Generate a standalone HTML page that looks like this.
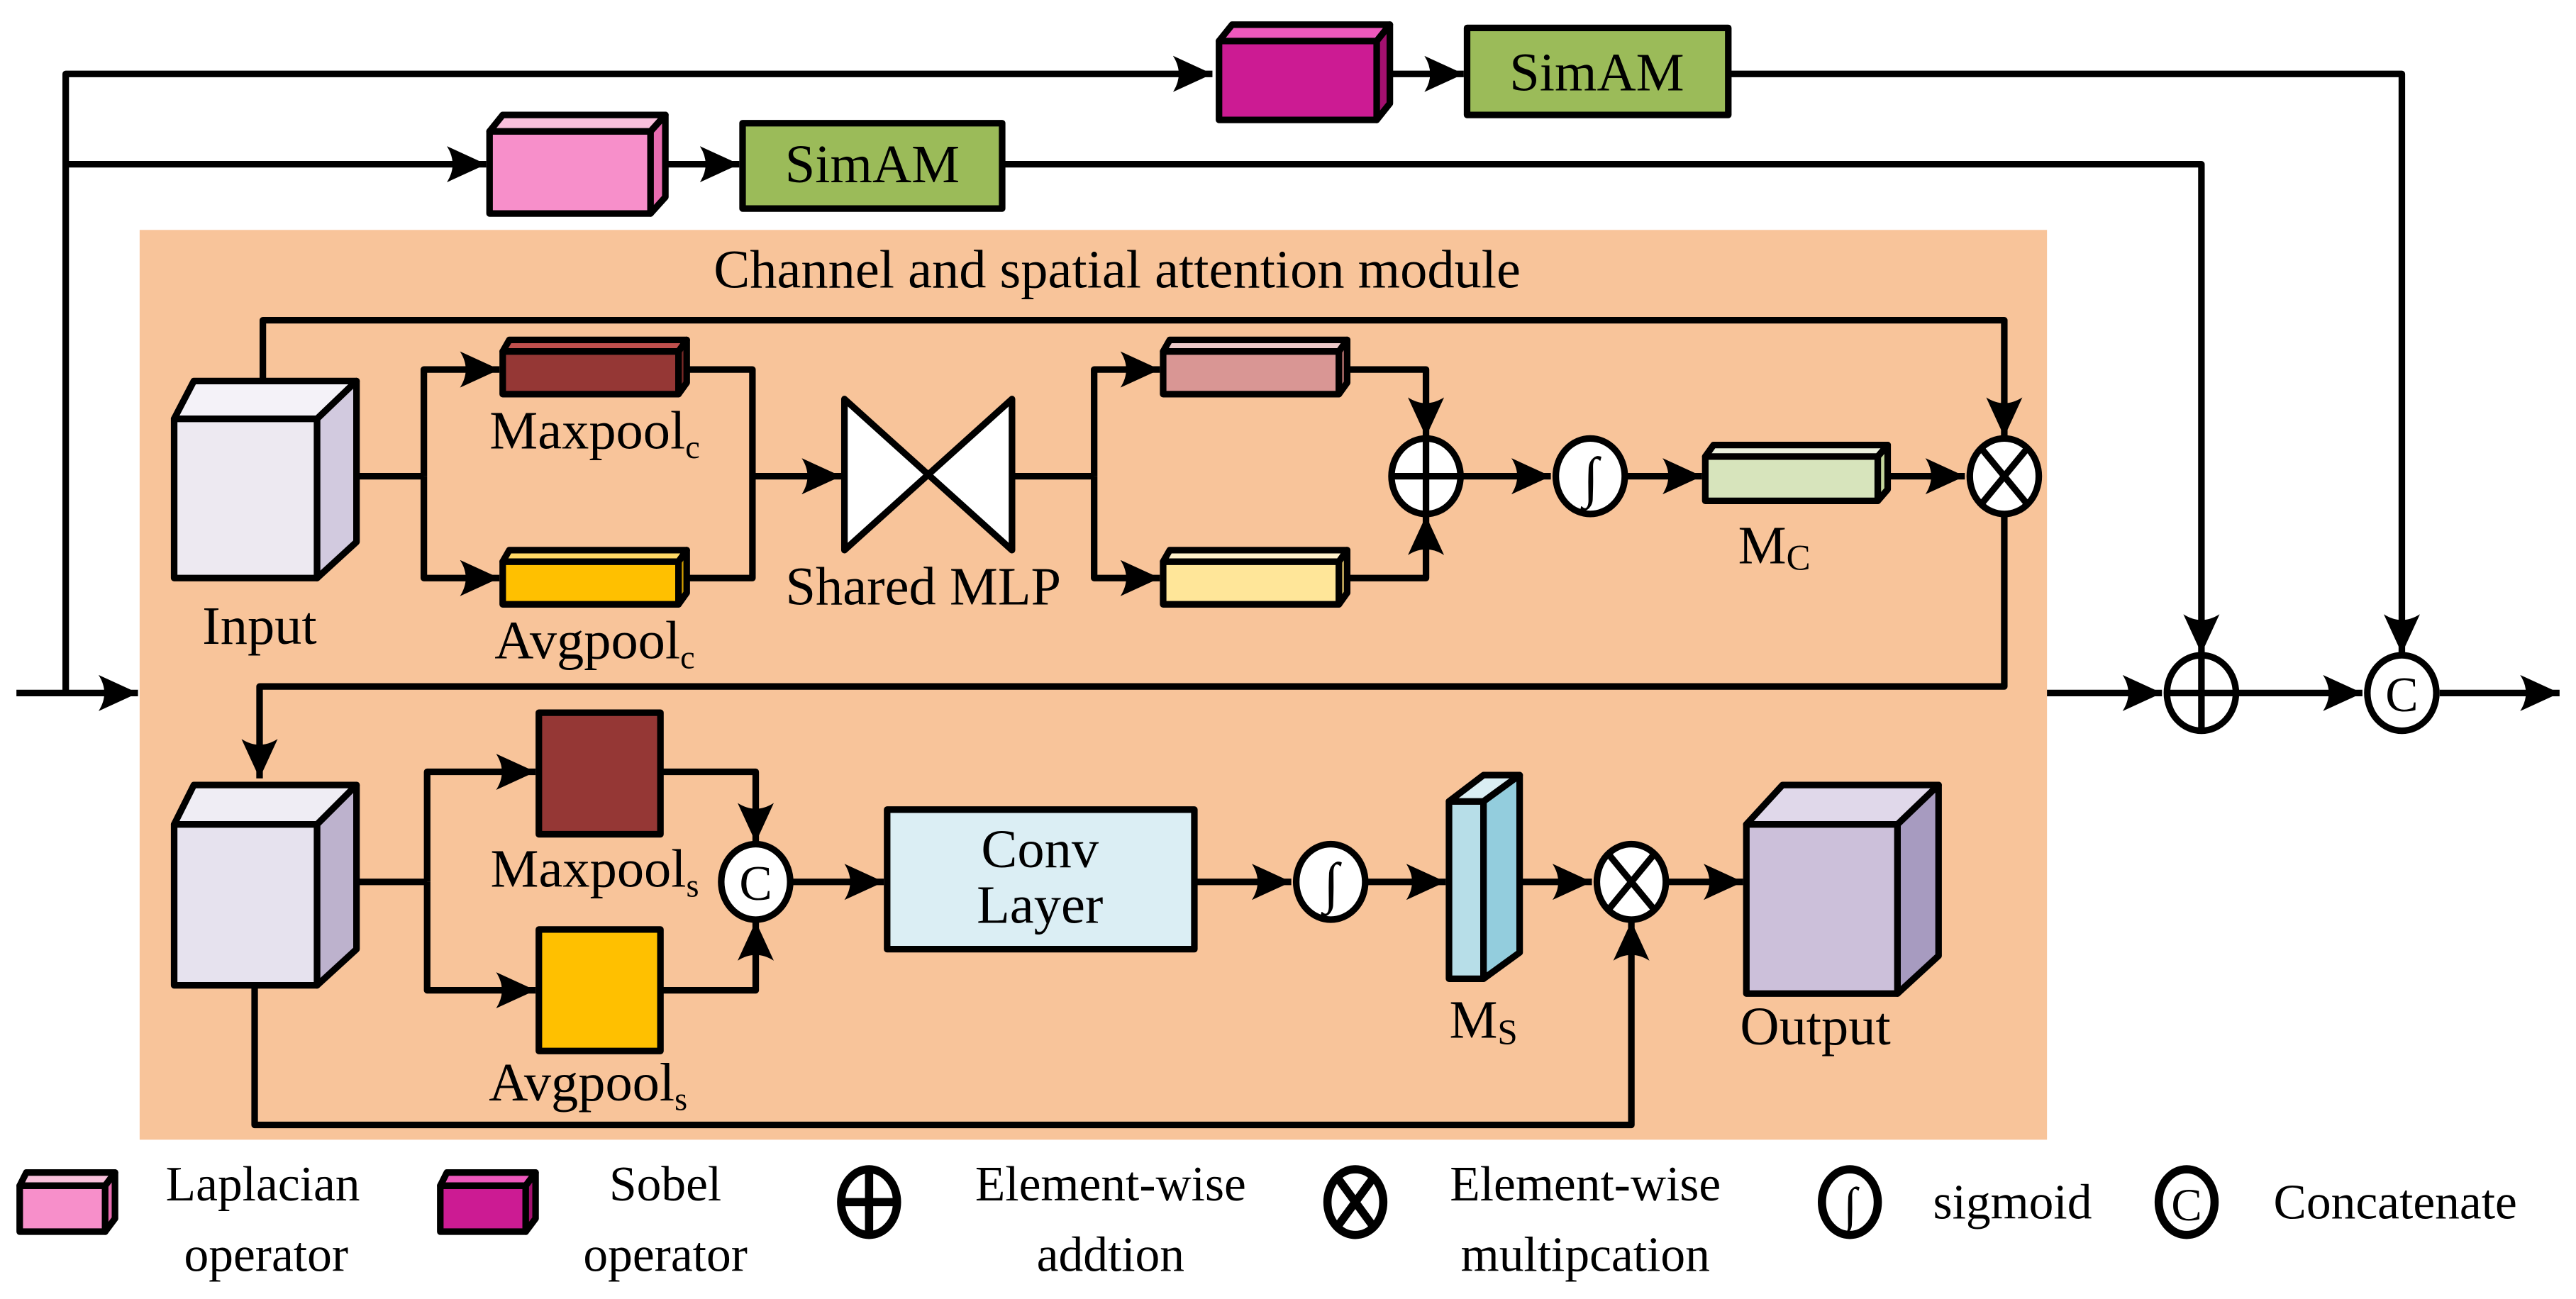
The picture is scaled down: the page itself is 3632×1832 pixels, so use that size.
<!DOCTYPE html>
<html><head><meta charset="utf-8"><style>
html,body{margin:0;padding:0;background:#fff;}
svg{display:block;}
text{font-family:"Liberation Serif",serif;fill:#000;}
</style></head><body>
<svg width="3632" height="1832" viewBox="0 0 1568 791" preserveAspectRatio="none" xmlns="http://www.w3.org/2000/svg">
<defs>
<marker id="a" markerUnits="userSpaceOnUse" markerWidth="26" markerHeight="24" refX="24" refY="11" orient="auto">
<path d="M0,0 L24,11 L0,22 Q7,11 0,0 Z" fill="#000"/>
</marker>
</defs>
<rect x="0" y="0" width="1568" height="791" fill="#fff"/>
<rect x="85" y="140" width="1161" height="554" fill="#f8c49a"/>

<g stroke="#000" stroke-width="4" fill="none" stroke-linejoin="round">
<polyline points="40,422 40,45 738,45" marker-end="url(#a)"/>
<polyline points="40,100 296,100" marker-end="url(#a)"/>
<polyline points="846,45 891,45" marker-end="url(#a)"/>
<polyline points="405,100 450,100" marker-end="url(#a)"/>
<polyline points="1052,45 1462,45 1462,398" marker-end="url(#a)"/>
<polyline points="610,100 1340,100 1340,398" marker-end="url(#a)"/>
<polyline points="10,422 84,422" marker-end="url(#a)"/>
<polyline points="1246,422 1316,422" marker-end="url(#a)"/>
<polyline points="1362,422 1438,422" marker-end="url(#a)"/>
<polyline points="1485,422 1558,422" marker-end="url(#a)"/>
<polyline points="160,232 160,195 1220,195 1220,266" marker-end="url(#a)"/>
<polyline points="210,290 258,290"/>
<polyline points="258,290 258,225 304,225" marker-end="url(#a)"/>
<polyline points="258,290 258,352 304,352" marker-end="url(#a)"/>
<polyline points="418,225 458,225 458,352 418,352"/>
<polyline points="458,290 512,290" marker-end="url(#a)"/>
<polyline points="616,290 666,290"/>
<polyline points="666,290 666,225 706,225" marker-end="url(#a)"/>
<polyline points="666,290 666,352 706,352" marker-end="url(#a)"/>
<polyline points="820,225 868,225 868,266" marker-end="url(#a)"/>
<polyline points="820,352 868,352 868,314" marker-end="url(#a)"/>
<polyline points="890,290 944,290" marker-end="url(#a)"/>
<polyline points="990,290 1036,290" marker-end="url(#a)"/>
<polyline points="1150,290 1196,290" marker-end="url(#a)"/>
<polyline points="1220,312 1220,418 158,418 158,474" marker-end="url(#a)"/>
<polyline points="212,537 260,537"/>
<polyline points="260,537 260,470 326,470" marker-end="url(#a)"/>
<polyline points="260,537 260,603 326,603" marker-end="url(#a)"/>
<polyline points="402,470 460,470 460,513" marker-end="url(#a)"/>
<polyline points="402,603 460,603 460,561" marker-end="url(#a)"/>
<polyline points="482,537 538,537" marker-end="url(#a)"/>
<polyline points="727,537 786,537" marker-end="url(#a)"/>
<polyline points="832,537 880,537" marker-end="url(#a)"/>
<polyline points="925,537 969,537" marker-end="url(#a)"/>
<polyline points="1015,537 1061,537" marker-end="url(#a)"/>
<polyline points="155,600 155,685 993,685 993,561" marker-end="url(#a)"/>
</g>

<g stroke="#000" stroke-width="4" stroke-linejoin="round">
<rect x="742" y="25" width="96" height="48" fill="#cc1b93"/>
<polygon points="742,25 750,15 846,15 838,25" fill="#ee58bd"/>
<polygon points="838,25 846,15 846,63 838,73" fill="#a3106f"/>
<rect x="893" y="17" width="159" height="53" fill="#9bbb59"/>
<rect x="298" y="80" width="98" height="50" fill="#f78fca"/>
<polygon points="298,80 306,70 405,70 396,80" fill="#f9c0dc"/>
<polygon points="396,80 405,70 405,120 396,130" fill="#e86cb0"/>
<rect x="452" y="75" width="158" height="52" fill="#9bbb59"/>

<rect x="106" y="255" width="87" height="97" fill="#ede9f1"/>
<polygon points="106,255 118,232 217,232 193,255" fill="#f4f2f8"/>
<polygon points="193,255 217,232 217,330 193,352" fill="#d2cadf"/>
<rect x="306" y="214" width="107" height="26" fill="#953735"/>
<polygon points="306,214 310,207 418,207 413,214" fill="#c0504d"/>
<polygon points="413,214 418,207 418,233 413,240" fill="#7a2a28"/>
<rect x="306" y="342" width="107" height="26" fill="#ffc000"/>
<polygon points="306,342 310,335 418,335 413,342" fill="#ffd966"/>
<polygon points="413,342 418,335 418,361 413,368" fill="#d4a000"/>
<polygon points="514,243 514,335 616,243 616,335" fill="#fff"/>
<rect x="708" y="214" width="107" height="26" fill="#d99694"/>
<polygon points="708,214 712,207 820,207 815,214" fill="#eccac9"/>
<polygon points="815,214 820,207 820,233 815,240" fill="#c07876"/>
<rect x="708" y="342" width="107" height="26" fill="#ffe699"/>
<polygon points="708,342 712,335 820,335 815,342" fill="#fff2cc"/>
<polygon points="815,342 820,335 820,361 815,368" fill="#e6c86c"/>
<rect x="1038" y="278" width="105" height="27" fill="#d7e4bc"/>
<polygon points="1038,278 1043,271 1149,271 1143,278" fill="#ebf1de"/>
<polygon points="1143,278 1149,271 1149,298 1143,305" fill="#c3d69b"/>

<rect x="106" y="502" width="87" height="98" fill="#e6e2ee"/>
<polygon points="106,502 118,478 217,478 193,502" fill="#efedf4"/>
<polygon points="193,502 217,478 217,578 193,600" fill="#bdb2cd"/>
<rect x="328" y="434" width="74" height="74" fill="#953735"/>
<rect x="328" y="566" width="74" height="74" fill="#ffc000"/>
<rect x="540" y="493" width="187" height="85" fill="#dbeef4"/>
<rect x="882" y="488" width="21" height="108" fill="#b7dee8"/>
<polygon points="882,488 903,472 925,472 903,488" fill="#daeef3"/>
<polygon points="903,488 925,472 925,580 903,596" fill="#93cddd"/>
<rect x="1063" y="502" width="92" height="103" fill="#ccc0da"/>
<polygon points="1063,502 1085,478 1180,478 1155,502" fill="#e0d8ea"/>
<polygon points="1155,502 1180,478 1180,582 1155,605" fill="#a79bc0"/>

<g fill="#fff">
<ellipse cx="868" cy="290" rx="21" ry="23"/>
<ellipse cx="968" cy="290" rx="21" ry="23"/>
<ellipse cx="1220" cy="290" rx="21" ry="23"/>
<ellipse cx="1340" cy="422" rx="21" ry="23"/>
<ellipse cx="1462" cy="422" rx="21" ry="23"/>
<ellipse cx="460" cy="537" rx="21" ry="23"/>
<ellipse cx="810" cy="537" rx="21" ry="23"/>
<ellipse cx="993" cy="537" rx="21" ry="23"/>
</g>
<g fill="none">
<path d="M847,290 H889 M868,267 V313"/>
<path d="M1206,273 L1234,307 M1234,273 L1206,307"/>
<path d="M1319,422 H1361 M1340,399 V445"/>
<path d="M979,520 L1007,554 M1007,520 L979,554"/>
</g>

<rect x="12" y="722" width="52" height="28" fill="#f78fca"/>
<polygon points="12,722 16,714 70,714 64,722" fill="#f9c0dc"/>
<polygon points="64,722 70,714 70,742 64,750" fill="#e86cb0"/>
<rect x="268" y="722" width="52" height="28" fill="#cc1b93"/>
<polygon points="268,722 272,714 326,714 320,722" fill="#ee58bd"/>
<polygon points="320,722 326,714 326,742 320,750" fill="#a3106f"/>
<g fill="#fff" stroke-width="5">
<ellipse cx="529" cy="732" rx="17" ry="20"/>
<ellipse cx="825" cy="732" rx="17" ry="20"/>
<ellipse cx="1126" cy="732" rx="17" ry="20"/>
<ellipse cx="1331" cy="732" rx="17" ry="20"/>
</g>
<path d="M511,732 H547 M529,712 V752" fill="none" stroke-width="5"/>
<path d="M814,717 L836,747 M836,717 L814,747" fill="none" stroke-width="5"/>
</g>

<g font-size="33" text-anchor="middle">
<text x="972" y="55">SimAM</text>
<text x="531" y="111">SimAM</text>
<text x="680" y="175">Channel and spatial attention module</text>
<text x="158" y="392">Input</text>
<text x="362" y="273">Maxpool<tspan font-size="20" dy="6">c</tspan></text>
<text x="362" y="401">Avgpool<tspan font-size="20" dy="6">c</tspan></text>
<text x="562" y="368">Shared MLP</text>
<text x="1080" y="343">M<tspan font-size="22" dy="4">C</tspan></text>
<text x="362" y="540">Maxpool<tspan font-size="20" dy="6">s</tspan></text>
<text x="358" y="670">Avgpool<tspan font-size="20" dy="6">s</tspan></text>
<text x="633" y="528">Conv</text>
<text x="633" y="562">Layer</text>
<text x="903" y="632">M<tspan font-size="22" dy="4">S</tspan></text>
<text x="1105" y="636">Output</text>
<text x="460" y="548" font-size="30">C</text>
<text x="1462" y="433" font-size="30">C</text>
<text x="968" y="302" font-size="34" font-weight="bold" font-style="italic">∫</text>
<text x="810" y="549" font-size="34" font-weight="bold" font-style="italic">∫</text>
<text x="1126" y="744" font-size="30" font-weight="bold" font-style="italic">∫</text>
<text x="1331" y="743" font-size="28">C</text>
</g>
<g font-size="30" text-anchor="middle">
<text x="160" y="731">Laplacian</text>
<text x="162" y="774">operator</text>
<text x="405" y="731">Sobel</text>
<text x="405" y="774">operator</text>
<text x="676" y="731">Element-wise</text>
<text x="676" y="774">addtion</text>
<text x="965" y="731">Element-wise</text>
<text x="965" y="774">multipcation</text>
<text x="1225" y="742">sigmoid</text>
<text x="1458" y="742">Concatenate</text>
</g>
</svg>
</body></html>
